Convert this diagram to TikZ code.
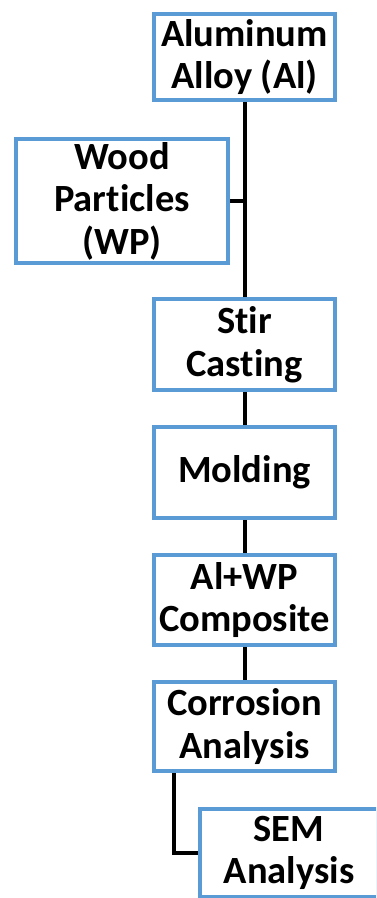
\documentclass[tikz,border=0pt]{standalone}
\usepackage{fontspec}
\setmainfont{Carlito}[Ligatures={NoCommon}]
\tikzset{
  stepbox/.style={draw=boxblue, line width=4pt, fill=white, align=center,
    inner sep=0pt, font=\bfseries\fontsize{38.5}{42.5}\selectfont},
  link/.style={draw=black, line width=4pt}
}
\definecolor{boxblue}{HTML}{5B9BD5}
\begin{document}
\begin{tikzpicture}[x=1pt,y=-1pt]
  \useasboundingbox (0,0) rectangle (376,898);
  \begin{scope}
    \clip (0,0) rectangle (376,898);
    % fixed points for the trunk line and the last bend
    \coordinate (join) at (245,201);
    \coordinate (bend) at (174,853);
    % process chain
    \node[stepbox, minimum width=181, minimum height=86] (al) at (244.5,57) {Aluminum\\Alloy (Al)};
    \node[stepbox, minimum width=212, minimum height=124] (wp) at (122,201) {Wood\\Particles\\(WP)};
    \node[stepbox, minimum width=181, minimum height=91] (stir) at (244.5,344.5) {Stir\\Casting};
    \node[stepbox, minimum width=181, minimum height=91] (mold) at (244.5,472.5) {Molding};
    \node[stepbox, minimum width=181, minimum height=90] (comp) at (244.5,600) {Al+WP\\Composite};
    \node[stepbox, minimum width=181, minimum height=89] (corr) at (244.5,726.5) {Corrosion\\Analysis};
    \node[stepbox, minimum width=178, minimum height=88] (sem) at (289,853) {SEM\\Analysis};
    % links between the steps
    \draw[link] (al.south -| join) -- (stir.north -| join);
    \draw[link] (wp.east) -- (join);
    \draw[link] (stir.south -| join) -- (mold.north -| join);
    \draw[link] (mold.south -| join) -- (comp.north -| join);
    \draw[link] (comp.south -| join) -- (corr.north -| join);
    \draw[link] (corr.south -| bend) -- (bend) -- (sem.west);
  \end{scope}
\end{tikzpicture}
\end{document}
